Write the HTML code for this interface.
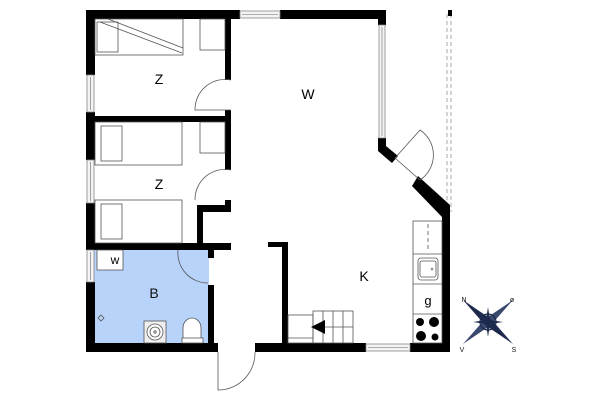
<!DOCTYPE html>
<html><head><style>html,body{margin:0;padding:0;background:#fff}svg{display:block}</style></head>
<body>
<svg width="600" height="400" viewBox="0 0 600 400" xmlns="http://www.w3.org/2000/svg" font-family="Liberation Sans, sans-serif">
<rect width="600" height="400" fill="#fff"/>
<!-- bathroom fill -->
<rect x="94" y="250" width="115" height="93" fill="#b8d3fa"/>
<!-- dashed terrace line -->
<line x1="447" y1="14" x2="447" y2="212" stroke="#aaa" stroke-width="1" stroke-dasharray="4,3"/>
<line x1="451" y1="14" x2="451" y2="212" stroke="#aaa" stroke-width="1" stroke-dasharray="4,3"/>
<rect x="448" y="10" width="4" height="6" fill="#000"/>
<g fill="#000">
<!-- top wall -->
<rect x="86" y="10" width="154" height="9"/>
<rect x="280" y="10" width="106" height="9"/>
<!-- right W wall stubs -->
<rect x="378" y="10" width="8" height="15"/>
<polygon points="378,138 386,138 386,146 398,156 392,163 378,151"/>
<!-- diagonal wall -->
<polygon points="418,176 450,205 450,212 442,217 412,186"/>
<rect x="442" y="205" width="8" height="147"/>
<!-- left wall -->
<rect x="86" y="10" width="9" height="65"/>
<rect x="86" y="112" width="9" height="48"/>
<rect x="86" y="203" width="9" height="47"/>
<rect x="86" y="282" width="9" height="70"/>
<!-- bottom wall -->
<rect x="86" y="343" width="132" height="9"/>
<rect x="255" y="343" width="111" height="9"/>
<rect x="410" y="343" width="40" height="9"/>
<!-- interior walls -->
<rect x="225" y="16" width="6" height="64"/>
<rect x="225" y="110" width="6" height="60"/>
<rect x="86" y="116" width="145" height="6"/>
<rect x="225" y="200" width="6" height="12"/>
<rect x="197" y="205" width="34" height="7"/>
<rect x="197" y="205" width="6" height="40"/>
<rect x="86" y="243" width="145" height="7"/>
<rect x="208" y="243" width="6" height="15"/>
<rect x="208" y="285" width="6" height="67"/>
<rect x="282" y="242" width="6" height="101"/>
<rect x="268" y="242" width="20" height="5"/>
</g>
<!-- windows -->
<g fill="#f4f4f4" stroke="#888" stroke-width="0.8">
<rect x="240" y="11" width="40" height="7"/>
<rect x="379" y="25" width="6" height="113"/>
<rect x="87" y="75" width="7" height="37"/>
<rect x="87" y="160" width="7" height="43"/>
<rect x="87" y="250" width="7" height="32"/>
<rect x="366" y="344" width="44" height="7"/>
</g>
<g stroke="#666" stroke-width="0.6" fill="none">
<line x1="242" y1="14.5" x2="278" y2="14.5"/>
<line x1="382" y1="27" x2="382" y2="136"/>
<line x1="90.5" y1="77" x2="90.5" y2="110"/>
<line x1="90.5" y1="162" x2="90.5" y2="201"/>
<line x1="90.5" y1="252" x2="90.5" y2="280"/>
<line x1="368" y1="347.5" x2="408" y2="347.5"/>
</g>
<!-- furniture -->
<g fill="none" stroke="#555" stroke-width="0.8">
<rect x="95" y="19" width="88" height="36"/>
<rect x="97" y="22" width="21" height="30"/>
<line x1="100" y1="22" x2="182" y2="53"/>
<line x1="108" y1="19" x2="183" y2="48"/>
<rect x="200" y="19" width="25" height="31"/>
<rect x="95" y="122" width="87" height="43"/>
<rect x="101" y="126" width="21" height="35"/>
<rect x="200" y="122" width="25" height="31"/>
<rect x="95" y="200" width="87" height="43"/>
<rect x="101" y="204" width="21" height="35"/>
<path d="M231,80 A30,30 0 0 0 195,110 L231,110"/>
<path d="M231,170 A30,30 0 0 0 195,200"/>
<path d="M178,250 A30,30 0 0 0 208,283"/>
<path d="M218,352 L218,390 A37,37 0 0 0 255,352"/>
<path d="M395,158 L420,130 A30,30 0 0 1 420,180 Z"/>
<!-- stairs -->
<rect x="288" y="315" width="25" height="28"/>
<rect x="313" y="311" width="40" height="32"/>
<line x1="323" y1="311" x2="323" y2="343"/><line x1="333" y1="311" x2="333" y2="343"/><line x1="343" y1="311" x2="343" y2="343"/>
<line x1="313" y1="327" x2="353" y2="327"/>
<line x1="288" y1="338" x2="313" y2="338"/>
<!-- kitchen -->
<rect x="413" y="221" width="29" height="122"/>
<line x1="413" y1="254" x2="442" y2="254"/>
<line x1="413" y1="284" x2="442" y2="284"/>
<line x1="413" y1="314" x2="442" y2="314"/>
<line x1="428" y1="224" x2="428" y2="252" stroke-dasharray="4,3"/>
<rect x="418" y="258" width="20" height="22" rx="3"/>
<rect x="420" y="261" width="16" height="16" rx="2"/>
<!-- bath -->
<rect x="97" y="250" width="26" height="20" fill="#fff"/>
<rect x="144" y="321" width="22" height="22" fill="#eee"/>
<circle cx="155" cy="332" r="8" fill="#fff"/><circle cx="155" cy="332" r="5"/><circle cx="155" cy="332" r="1.2"/>
<path d="M183,340 L183,328 A9,10 0 0 1 201,328 L201,340" fill="#fff"/>
<rect x="182" y="338" width="21" height="5" fill="#fff"/>
<path d="M101,315 l3,3 l-3,3 l-3,-3 z"/>
</g>
<g fill="#000">
<circle cx="420" cy="322" r="4"/><circle cx="434" cy="322" r="5"/>
<circle cx="421" cy="336" r="5"/><circle cx="435" cy="337" r="3.5"/>
<polygon points="311,327 325,320 325,334"/>
<circle cx="432" cy="269" r="1" fill="none" stroke="#555" stroke-width="0.6"/>
</g>
<!-- labels -->
<g font-size="14" fill="#000" text-anchor="middle">
<text x="159" y="84">Z</text>
<text x="159" y="189">Z</text>
<text x="308" y="99">W</text>
<text x="364" y="281">K</text>
<text x="154" y="298" fill="#111">B</text>
<text x="115" y="264" font-size="12">w</text>
<text x="428" y="305" font-size="13">g</text>
</g>
<!-- compass -->
<g transform="translate(488,322)">
<polygon points="-25,-22 3,-3 -3,3" fill="#1d2a4d"/>
<polygon points="25,22 -3,3 3,-3" fill="#1d2a4d"/>
<polygon points="25,-22 3,3 -3,-3" fill="#3a4a6e"/>
<polygon points="-25,22 -3,-3 3,3" fill="#3a4a6e"/>
<polygon points="0,-15 2,-2 0,0 -2,-2" fill="#1d2a4d"/>
<polygon points="0,15 2,2 0,0 -2,2" fill="#1d2a4d"/>
<polygon points="-15,0 -2,-2 0,0 -2,2" fill="#1d2a4d"/>
<polygon points="15,0 2,-2 0,0 2,2" fill="#1d2a4d"/>
<circle r="8" fill="none" stroke="#1d2a4d" stroke-width="1.2"/>
<circle r="4" fill="#1d2a4d"/>
<g font-size="7" fill="#111" text-anchor="middle">
<text x="-24" y="-20">N</text><text x="24" y="-20">ø</text>
<text x="-26" y="30">V</text><text x="26" y="30">S</text>
</g>
</g>
</svg>
</body></html>
